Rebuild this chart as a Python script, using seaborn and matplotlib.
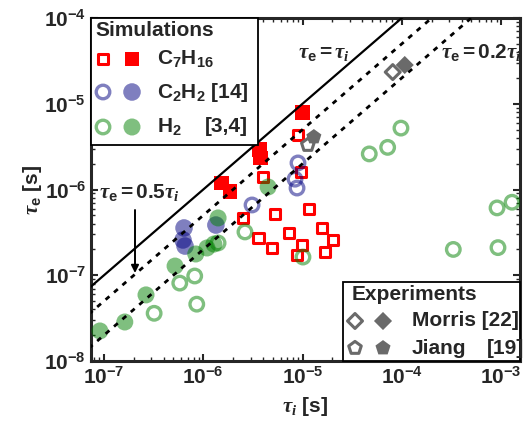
import numpy as np
import seaborn as sns
import matplotlib.pyplot as plt
from matplotlib.patches import Rectangle

# ---- data (tau_i, tau_e) in seconds ----
c7_open_ti = [9.0e-6, 4.0e-6, 9.6e-6, 2.5e-6, 5.3e-6, 1.16e-5, 3.6e-6, 4.9e-6,
              7.3e-6, 9.9e-6, 8.8e-6, 1.57e-5, 2.02e-5, 1.68e-5]
c7_open_te = [4.3e-6, 1.4e-6, 1.6e-6, 4.7e-7, 5.2e-7, 5.9e-7, 2.7e-7, 2.1e-7,
              3.1e-7, 2.25e-7, 1.72e-7, 3.56e-7, 2.58e-7, 1.87e-7]
c7_fill_ti = [1.54e-6, 1.86e-6, 3.72e-6, 3.81e-6, 9.9e-6]
c7_fill_te = [1.19e-6, 9.4e-7, 2.96e-6, 2.33e-6, 8.0e-6]

c2_open_ti = [3.1e-6, 9.0e-6, 8.4e-6, 8.8e-6]
c2_open_te = [6.6e-7, 2.04e-6, 1.32e-6, 1.04e-6]
c2_fill_ti = [6.4e-7, 6.25e-7, 6.55e-7, 1.34e-6]
c2_fill_te = [3.56e-7, 2.58e-7, 2.19e-7, 3.85e-7]

h2_open_ti = [3.2e-7, 5.8e-7, 8.2e-7, 8.6e-7, 1.41e-6, 2.63e-6, 1.01e-5,
              4.7e-5, 7.2e-5, 9.8e-5, 9.1e-4, 1.29e-3, 3.3e-4, 9.3e-4]
h2_open_te = [3.6e-8, 8.1e-8, 9.8e-8, 4.6e-8, 2.38e-7, 3.2e-7, 1.63e-7,
              2.6e-6, 3.1e-6, 5.2e-6, 6.1e-7, 7.1e-7, 2.0e-7, 2.1e-7]
h2_fill_ti = [9.1e-8, 1.62e-7, 2.65e-7, 5.2e-7, 8.4e-7, 1.09e-6, 1.28e-6,
              1.41e-6, 4.5e-6]
h2_fill_te = [2.24e-8, 2.85e-8, 5.9e-8, 1.28e-7, 1.77e-7, 2.08e-7, 2.31e-7,
              4.66e-7, 1.07e-6]

morris_open = ([8.1e-5], [2.34e-5])
morris_fill = ([1.07e-4], [2.83e-5])
jiang_open = ([1.13e-5], [3.3e-6])
jiang_fill = ([1.3e-5], [4.1e-6])

line_ratios = [1.0, 0.5, 0.2]
x_ticks = [1e-7, 1e-6, 1e-5, 1e-4, 1e-3]
x_ticklabels = [r'$\mathrm{10^{-7}}$', r'$\mathrm{10^{-6}}$', r'$\mathrm{10^{-5}}$',
                r'$\mathrm{10^{-4}}$', r'$\mathrm{10^{-3}}$']
y_ticks = [1e-8, 1e-7, 1e-6, 1e-5, 1e-4]
y_ticklabels = [r'$\mathrm{10^{-8}}$', r'$\mathrm{10^{-7}}$', r'$\mathrm{10^{-6}}$',
                r'$\mathrm{10^{-5}}$', r'$\mathrm{10^{-4}}$']

sns.set_style('ticks')
plt.rcParams['font.family'] = ['Liberation Sans', 'DejaVu Sans']
plt.rcParams['font.weight'] = 'bold'
plt.rcParams['mathtext.fontset'] = 'custom'
plt.rcParams['mathtext.rm'] = 'Liberation Sans:bold'
plt.rcParams['mathtext.bf'] = 'Liberation Sans:bold'
plt.rcParams['mathtext.sf'] = 'Liberation Sans:bold'
plt.rcParams['mathtext.it'] = 'Liberation Serif:italic:bold'

W, H = 525, 424
fig = plt.figure(figsize=(W / 100, H / 100), dpi=100)
ax = fig.add_axes([91 / W, 1 - 361 / H, (520 - 91) / W, (361 - 18) / H])


def fx(px):
    return px / W


def fy(py):
    return 1 - py / H


RED = '#ff0000'
BLUE = '#000080'
GREEN = '#008000'
GRAY = '#6a6a6a'
FS = 15

# simulations
sns.scatterplot(x=c7_open_ti, y=c7_open_te, marker='s', s=52, facecolor='none',
                edgecolor=RED, linewidth=2.2, ax=ax, legend=False, zorder=2)
sns.scatterplot(x=c7_fill_ti, y=c7_fill_te, marker='s', s=115, color=RED,
                edgecolor='none', linewidth=0, ax=ax, legend=False, zorder=2)
sns.scatterplot(x=c2_open_ti, y=c2_open_te, marker='o', s=95, facecolor='none',
                edgecolor=BLUE, linewidth=2.4, alpha=0.5, ax=ax, legend=False, zorder=3)
sns.scatterplot(x=c2_fill_ti, y=c2_fill_te, marker='o', s=160, color=BLUE,
                edgecolor='none', linewidth=0, alpha=0.5, ax=ax, legend=False, zorder=3)
sns.scatterplot(x=h2_open_ti, y=h2_open_te, marker='o', s=95, facecolor='none',
                edgecolor=GREEN, linewidth=2.4, alpha=0.5, ax=ax, legend=False, zorder=3)
sns.scatterplot(x=h2_fill_ti, y=h2_fill_te, marker='o', s=150, color=GREEN,
                edgecolor='none', linewidth=0, alpha=0.5, ax=ax, legend=False, zorder=3)

# experiments
sns.scatterplot(x=morris_open[0], y=morris_open[1], marker='D', s=58, facecolor='none',
                edgecolor=GRAY, linewidth=2.2, ax=ax, legend=False, zorder=4)
sns.scatterplot(x=morris_fill[0], y=morris_fill[1], marker='D', s=85, color=GRAY,
                edgecolor='none', linewidth=0, ax=ax, legend=False, zorder=4)
sns.scatterplot(x=jiang_open[0], y=jiang_open[1], marker='p', s=90, facecolor='none',
                edgecolor=GRAY, linewidth=2.2, ax=ax, legend=False, zorder=4)
sns.scatterplot(x=jiang_fill[0], y=jiang_fill[1], marker='p', s=130, color=GRAY,
                edgecolor='none', linewidth=0, ax=ax, legend=False, zorder=4)

# reference lines
xx = np.array([1e-8, 1e-2])
for r in line_ratios:
    ls = '-' if r == 1.0 else (0, (1.8, 2.2))
    ax.plot(xx, r * xx, color='k', lw=1.6 if r == 1.0 else 2.0, ls=ls, zorder=4.5)

ax.set_xscale('log')
ax.set_yscale('log')
ax.set_xlim(7.4e-8, 1.55e-3)
ax.set_ylim(1e-8, 1e-4)
ax.set_xticks(x_ticks, labels=x_ticklabels)
ax.set_yticks(y_ticks, labels=y_ticklabels)
ax.tick_params(which='both', direction='in', top=True, right=True, labelsize=FS)
ax.tick_params(which='major', length=5, width=1.5)
ax.tick_params(which='minor', length=3, width=1.0)
for sp in ax.spines.values():
    sp.set_linewidth(2.2)

fig.text(fx(305), fy(412), r'$\tau_i$ [s]', fontsize=FS, ha='center', va='baseline')
fig.text(fx(32), fy(190), r'$\tau_\mathrm{e}$ [s]', fontsize=FS, ha='center',
         va='center', rotation=90)

# line annotations
fig.text(fx(298), fy(58), r'$\tau_\mathrm{e}\mathrm{=}\tau_i$', fontsize=FS, zorder=7)
fig.text(fx(441), fy(58), r'$\tau_\mathrm{e}\mathrm{=0.2}\tau_i$', fontsize=FS, zorder=7)
fig.text(fx(99), fy(198), r'$\tau_\mathrm{e}\mathrm{=0.5}\tau_i$', fontsize=FS, zorder=7)
ax.annotate('', xy=(fx(135), fy(273)), xytext=(fx(135), fy(210)),
            xycoords='figure fraction', textcoords='figure fraction',
            arrowprops=dict(arrowstyle='-|>', color='k', lw=1.4, mutation_scale=11,
                            shrinkA=0, shrinkB=0), zorder=7)

# legend boxes
tf = fig.transFigure
ax.add_patch(Rectangle((fx(91), fy(145)), fx(258) - fx(91), fy(18) - fy(145),
                       transform=tf, facecolor='white', edgecolor='k', lw=1.3,
                       zorder=6, clip_on=False))
ax.add_patch(Rectangle((fx(343), fy(361)), fx(520) - fx(343), fy(282) - fy(361),
                       transform=tf, facecolor='white', edgecolor='k', lw=1.3,
                       zorder=6, clip_on=False))


def leg_marker(px, py, marker, s, face, edge, lw, alpha=1.0):
    ax.scatter([fx(px)], [fy(py)], transform=tf, marker=marker, s=s, facecolor=face,
               edgecolor=edge, linewidths=lw, alpha=alpha, zorder=8, clip_on=False)


fig.text(fx(95), fy(31), 'Simulations', fontsize=FS, va='center', zorder=9)
leg_marker(103, 59, 's', 52, 'none', RED, 2.2)
leg_marker(132, 59, 's', 115, RED, 'none', 0)
fig.text(fx(157), fy(59), r'$\mathrm{C_7H_{16}}$', fontsize=FS, va='center', zorder=9)
leg_marker(103, 92, 'o', 95, 'none', BLUE, 2.4, 0.5)
leg_marker(132, 92, 'o', 160, BLUE, 'none', 0, 0.5)
fig.text(fx(157), fy(92), r'$\mathrm{C_2H_2}$ [14]', fontsize=FS, va='center', zorder=9)
leg_marker(103, 127, 'o', 95, 'none', GREEN, 2.4, 0.5)
leg_marker(132, 127, 'o', 150, GREEN, 'none', 0, 0.5)
fig.text(fx(157), fy(127), r'$\mathrm{H_2}$', fontsize=FS, va='center', zorder=9)
fig.text(fx(205), fy(127), '[3,4]', fontsize=FS, va='center', zorder=9)

fig.text(fx(352), fy(294), 'Experiments', fontsize=FS, va='center', zorder=9)
leg_marker(355, 321, 'D', 58, 'none', GRAY, 2.2)
leg_marker(383, 321, 'D', 85, GRAY, 'none', 0)
fig.text(fx(412), fy(321), 'Morris [22]', fontsize=FS, va='center', zorder=9)
leg_marker(355, 348, 'p', 90, 'none', GRAY, 2.2)
leg_marker(383, 348, 'p', 130, GRAY, 'none', 0)
fig.text(fx(412), fy(348), 'Jiang', fontsize=FS, va='center', zorder=9)
fig.text(fx(487), fy(348), '[19]', fontsize=FS, va='center', zorder=9)

fig.savefig('out.png', dpi=100)
